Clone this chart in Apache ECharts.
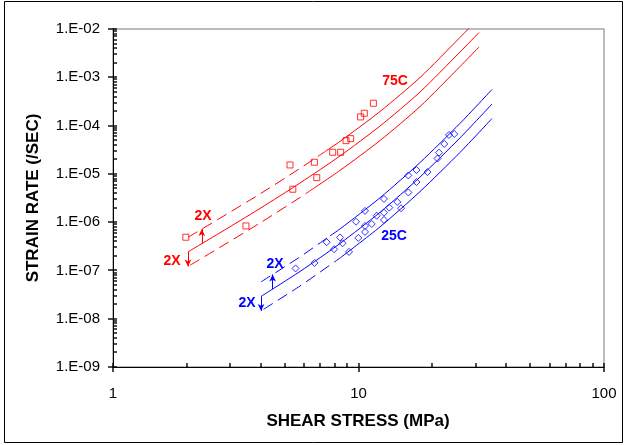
<!DOCTYPE html>
<html><head><meta charset="utf-8">
<script src="https://cdn.jsdelivr.net/npm/echarts@6/dist/echarts.min.js"></script>
<style>html,body{margin:0;padding:0;background:#fff}#c{width:627px;height:445px}</style>
</head><body><div id="c"></div>
<script>
// ---- axis ticks ----
const xMajorTicks = [1, 10, 100];
const xMinorTicks = [2, 3, 4, 5, 6, 7, 8, 9, 20, 30, 40, 50, 60, 70, 80, 90];
const yMajorTicks = [1e-9, 1e-8, 1e-7, 1e-6, 1e-5, 1e-4, 1e-3, 1e-2];
const yMinorMultipliers = [2, 3, 4, 5, 6, 7, 8, 9];

// ---- 75C data (red) ----
const red75Points = [[1.98,4.87e-7],[3.48,8.34e-7],[5.26,1.53e-5],[5.40,4.80e-6],[6.61,1.74e-5],[6.76,8.34e-6],
  [7.85,2.80e-5],[8.46,2.80e-5],[8.90,4.87e-5],[9.29,5.36e-5],[10.2,1.51e-4],[10.56,1.80e-4],[11.5,2.90e-4]];
const red75Mid = [[2.02,2.42e-7],[2.73,6.04e-7],[3.97,1.92e-6],[5.78,6.48e-6],[8.41,2.35e-5],[12.24,9.8e-5],[17.81,4.96e-4],[25.91,3.34e-3],[30.97,8.46e-3]];
const red75Upper = [[2.02,4.84e-7],[2.73,1.21e-6],[3.97,3.84e-6],[5.78,1.30e-5],[7.30,2.89e-5],[8.41,4.70e-5],[12.24,1.96e-4],[17.81,9.9e-4],[25.91,6.7e-3],[30.97,1.69e-2]];
const red75Lower = [[2.06,1.28e-7],[2.73,3.02e-7],[3.97,9.6e-7],[5.78,3.24e-6],[6.35,4.47e-6],[8.41,1.18e-5],[12.24,4.9e-5],[17.81,2.48e-4],[25.91,1.67e-3],[30.97,4.23e-3]];
const red75UpperDashEnd = 7.30;
const red75LowerDashEnd = 6.35;
const red75ArrowDown = [[2.02,2.42e-7],[2.02,1.21e-7]];
const red75ArrowUp = [[2.30,3.59e-7],[2.30,7.18e-7]];

// ---- 25C data (blue) ----
const blue25Points = [[5.54,1.10e-7],[6.62,1.43e-7],[7.42,3.84e-7],[7.95,2.75e-7],[8.41,4.82e-7],[8.61,3.66e-7],
  [9.15,2.42e-7],[9.77,1.02e-6],[9.98,4.71e-7],[10.63,1.71e-6],[10.63,8.34e-7],[10.63,6.27e-7],[11.32,9.18e-7],
  [11.86,1.36e-6],[12.70,3.02e-6],[12.70,1.57e-6],[12.70,1.11e-6],[13.35,2.00e-6],[14.39,2.62e-6],[14.90,1.94e-6],
  [15.96,9.27e-6],[15.96,4.12e-6],[17.23,1.20e-5],[17.23,6.79e-6],[19.10,1.09e-5],[20.98,2.08e-5],[21.28,2.75e-5],
  [22.36,4.16e-5],[23.37,6.38e-5],[24.56,6.70e-5]];
const blue25Mid = [[4.01,2.90e-8],[5.78,9.53e-8],[8.41,3.62e-7],[12.24,1.60e-6],[17.81,8.59e-6],[25.91,5.56e-5],[34.99,2.80e-4]];
const blue25Upper = [[4.01,5.8e-8],[5.78,1.91e-7],[7.65,5.18e-7],[8.41,7.24e-7],[12.24,3.2e-6],[17.81,1.72e-5],[25.91,1.11e-4],[34.99,5.6e-4]];
const blue25Lower = [[4.10,1.56e-8],[5.78,4.77e-8],[8.41,1.81e-7],[12.24,8.0e-7],[17.81,4.3e-6],[25.91,2.78e-5],[34.99,1.40e-4]];
const blue25UpperDashEnd = 7.65;
const blue25LowerDashEnd = 8.41;
const blue25ArrowDown = [[4.01,2.90e-8],[4.01,1.45e-8]];
const blue25ArrowUp = [[4.47,4.13e-8],[4.47,8.26e-8]];

// ---- styling ----
const RED = '#ff0000', BLUE = '#0000ff';
const FONT = 'Liberation Sans, Arial, Helvetica, sans-serif';

const yMinorTicks = [];
yMajorTicks.slice(0, -1).forEach(d => yMinorMultipliers.forEach(m => yMinorTicks.push(m * d)));

function fmtY(v) {
  const e = Math.round(Math.log10(v));
  return '1.E' + (e < 0 ? '-' : '+') + String(Math.abs(e)).padStart(2, '0');
}

function lineSeries(pts, color, dashed) {
  return {type:'line', data: pts, symbol:'none', smooth: 0.25, silent:true, animation:false, clip:true,
    lineStyle:{color, width:1, type: dashed ? [11,6] : 'solid'}};
}
function splitLine(pts, end, color) {
  return [
    lineSeries(pts.filter(p => p[0] <= end), color, true),
    lineSeries(pts.filter(p => p[0] >= end), color, false)
  ];
}
function arrowSeries(seg, color) {
  return {type:'line', data: [], silent:true, animation:false,
    markLine:{silent:true, animation:false, symbol:['none','arrow'], symbolSize:[5,7],
      label:{show:false}, lineStyle:{color, width:1, type:'solid'},
      emphasis:{disabled:true},
      data:[[{coord: seg[0]}, {coord: seg[1]}]]}};
}
function scatterSeries(pts, color, symbol, size) {
  return {type:'scatter', data: pts, symbol, symbolSize:size, silent:true, animation:false,
    itemStyle:{color:'rgba(0,0,0,0)', borderColor:color, borderWidth:1}};
}

const GRID = {left:113, right:23, top:29, bottom:78};
const chart = echarts.init(document.getElementById('c'), null, {renderer:'canvas'});
const baseGraphics = [
    {type:'rect', shape:{x:4.5, y:1.5, width:618, height:441}, style:{fill:null, stroke:'#000', lineWidth:1}, silent:true, z:-1},
    {type:'text', x:33, y:198, rotation:Math.PI/2, style:{text:'STRAIN RATE (/SEC)', align:'center', verticalAlign:'middle', font:'bold 17px ' + FONT, fill:'#000'}},
    {type:'text', x:358, y:421, style:{text:'SHEAR STRESS (MPa)', align:'center', verticalAlign:'middle', font:'bold 17px ' + FONT, fill:'#000'}},
    {type:'text', x:395, y:81, style:{text:'75C', align:'center', verticalAlign:'middle', font:'bold 14px ' + FONT, fill:RED}},
    {type:'text', x:203, y:216, style:{text:'2X', align:'center', verticalAlign:'middle', font:'bold 14px ' + FONT, fill:RED}},
    {type:'text', x:172, y:261, style:{text:'2X', align:'center', verticalAlign:'middle', font:'bold 14px ' + FONT, fill:RED}},
    {type:'text', x:394, y:236, style:{text:'25C', align:'center', verticalAlign:'middle', font:'bold 14px ' + FONT, fill:BLUE}},
    {type:'text', x:275, y:264, style:{text:'2X', align:'center', verticalAlign:'middle', font:'bold 14px ' + FONT, fill:BLUE}},
    {type:'text', x:247, y:303, style:{text:'2X', align:'center', verticalAlign:'middle', font:'bold 14px ' + FONT, fill:BLUE}}
];
chart.setOption({
  backgroundColor:'#fff',
  animation:false,
  grid:Object.assign({show:true, borderColor:'#a6a6a6', borderWidth:1.5, backgroundColor:'transparent'}, GRID),
  xAxis:{type:'log', logBase:10, min:1, max:100,
     axisLine:{show:true, lineStyle:{color:'#000', width:1}},
     axisTick:{show:false},
     axisLabel:{show:true, color:'#000', fontSize:15, fontFamily:FONT, margin:19, customValues: xMajorTicks,
       formatter: v => String(Math.round(v))},
     splitLine:{show:false}},
  yAxis:{type:'log', logBase:10, min:1e-9, max:1e-2,
     axisLine:{show:true, lineStyle:{color:'#000', width:1}},
     axisTick:{show:false},
     axisLabel:{show:true, color:'#000', fontSize:15, fontFamily:FONT, margin:13, customValues: yMajorTicks,
       formatter: fmtY},
     splitLine:{show:false}},
  series:[
    lineSeries(red75Mid, RED, false),
    ...splitLine(red75Upper, red75UpperDashEnd, RED),
    ...splitLine(red75Lower, red75LowerDashEnd, RED),
    scatterSeries(red75Points, RED, 'rect', 6),
    arrowSeries(red75ArrowDown, RED),
    arrowSeries(red75ArrowUp, RED),
    lineSeries(blue25Mid, BLUE, false),
    ...splitLine(blue25Upper, blue25UpperDashEnd, BLUE),
    ...splitLine(blue25Lower, blue25LowerDashEnd, BLUE),
    scatterSeries(blue25Points, BLUE, 'diamond', 7),
    arrowSeries(blue25ArrowDown, BLUE),
    arrowSeries(blue25ArrowUp, BLUE)
  ],
  graphic: baseGraphics
});

// tick marks placed through the axis scales (convertToPixel)
const tickGraphics = [];
const origin = chart.convertToPixel({gridIndex:0}, [1, 1e-9]);
const axisY = Math.round(origin[1]), axisX = Math.round(origin[0]);
function addX(v, inLen, outLen) {
  const x = Math.round(chart.convertToPixel({xAxisIndex:0}, v));
  tickGraphics.push({type:'line', silent:true, z:100, shape:{x1:x, y1:axisY + outLen, x2:x, y2:axisY - inLen}, style:{stroke:'#000', lineWidth:1.4}});
}
function addY(v, inLen, outLen) {
  const y = Math.round(chart.convertToPixel({yAxisIndex:0}, v));
  tickGraphics.push({type:'line', silent:true, z:100, shape:{x1:axisX - outLen, y1:y, x2:axisX + inLen, y2:y}, style:{stroke:'#000', lineWidth:1.4}});
}
xMinorTicks.forEach(v => addX(v, 4, 0));
xMajorTicks.forEach(v => addX(v, 4, 5));
yMinorTicks.forEach(v => addY(v, 4, 0));
yMajorTicks.forEach(v => addY(v, 4, 5));
chart.setOption({graphic: baseGraphics.concat(tickGraphics)}, {replaceMerge:['graphic']});
</script></body></html>
